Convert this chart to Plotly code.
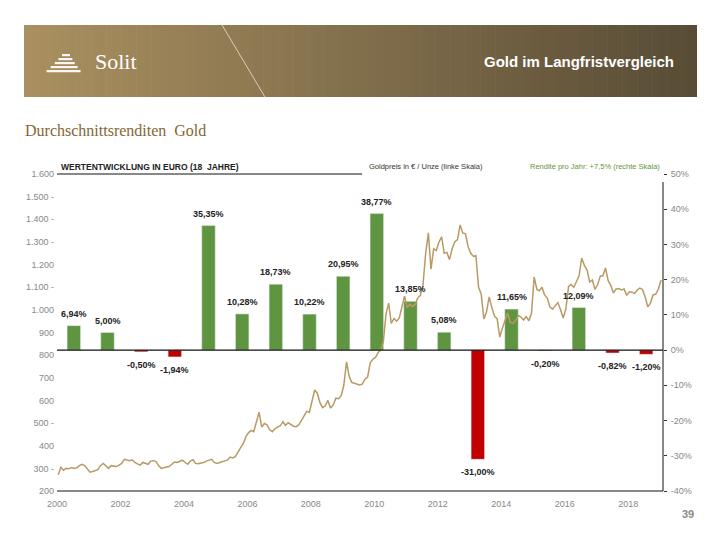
import plotly.graph_objects as go

# ---------------- data ----------------
bar_labels = ["6,94%", "5,00%", "-0,50%", "-1,94%", "35,35%", "10,28%", "18,73%", "10,22%", "20,95%",
              "38,77%", "13,85%", "5,08%", "-31,00%", "11,65%", "-0,20%", "12,09%", "-0,82%", "-1,20%"]
bar_values = [6.94, 5.00, -0.50, -1.94, 35.35, 10.28, 18.73, 10.22, 20.95,
              38.77, 13.85, 5.08, -31.00, 11.65, -0.20, 12.09, -0.82, -1.20]

gold_years = list(range(2000, 2019))
gold_monthly = [
    [272, 305, 292, 300, 298, 304, 300, 302, 312, 318, 312, 296],          # 2000
    [283, 286, 290, 294, 312, 322, 312, 300, 312, 310, 308, 314],          # 2001
    [322, 340, 336, 334, 338, 326, 320, 314, 326, 322, 318, 332],          # 2002
    [334, 330, 312, 300, 304, 306, 308, 316, 328, 326, 332, 336],          # 2003
    [326, 318, 332, 338, 322, 320, 324, 326, 332, 336, 340, 326],          # 2004
    [322, 326, 330, 332, 336, 350, 346, 352, 374, 392, 410, 440],          # 2005
    [458, 468, 462, 508, 548, 482, 498, 492, 470, 462, 476, 482],          # 2006
    [488, 506, 490, 502, 494, 486, 484, 492, 512, 532, 552, 548],          # 2007
    [600, 646, 632, 590, 568, 576, 600, 566, 580, 610, 608, 620],          # 2008
    [668, 770, 710, 680, 676, 672, 668, 672, 694, 702, 766, 782],          # 2009
    [790, 812, 822, 860, 980, 1030, 940, 962, 950, 964, 1010, 1060],       # 2010
    [1010, 1026, 1014, 1024, 1052, 1064, 1110, 1250, 1340, 1180, 1270, 1262],  # 2011
    [1300, 1322, 1250, 1254, 1222, 1270, 1300, 1310, 1375, 1340, 1336, 1280],  # 2012
    [1250, 1236, 1240, 1100, 1070, 960, 990, 1057, 1010, 972, 960, 880],   # 2013
    [920, 960, 986, 944, 940, 952, 975, 968, 955, 970, 952, 985],          # 2014
    [1145, 1090, 1084, 1100, 1066, 1052, 1012, 1004, 1016, 1032, 1000, 964],   # 2015
    [1004, 1104, 1112, 1100, 1124, 1150, 1229, 1196, 1176, 1123, 1132, 1090],  # 2016
    [1112, 1150, 1150, 1185, 1130, 1108, 1075, 1092, 1094, 1088, 1092, 1064],  # 2017
    [1080, 1078, 1072, 1088, 1096, 1090, 1058, 1013, 1030, 1066, 1070, 1092],  # 2018
]
gold_last = [("2019-01-15", 1132)]

left_ticks = [1600, 1500, 1400, 1300, 1200, 1100, 1000, 900, 800, 700, 600, 500, 400, 300, 200]
left_ticktext = ["1.600", "1.500 -", "1.400 -", "1.300 -", "1.200", "1.100 -", "1.000", "900",
                 "800", "700", "600", "500 -", "400", "300 -", "200"]
right_ticks = [50, 40, 30, 20, 10, 0, -10, -20, -30, -40]
right_ticktext = ["50%", "40%", "30%", "20%", "10%", "0%", "-10%", "-20%", "-30%", "-40%"]
x_tickyears = [2000, 2002, 2004, 2006, 2008, 2010, 2012, 2014, 2016, 2018]

# ---------------- build ----------------
gold_dates, gold_values = [], []
for yr, vals in zip(gold_years, gold_monthly):
    for m, v in enumerate(vals):
        gold_dates.append(f"{yr}-{m+1:02d}-15")
        gold_values.append(v)
for d, v in gold_last:
    gold_dates.append(d)
    gold_values.append(v)

bar_x = [i + 0.5 for i in range(len(bar_values))]
bar_colors = ["#5f9541" if v >= 0 else "#c00000" for v in bar_values]

W, H = 720, 540
L, R, T, B = 57, 57, 174, 49
PW, PH = W - L - R, H - T - B


def px(x):
    return (x - L) / PW


def py(y):
    return (H - B - y) / PH


fig = go.Figure()
fig.add_trace(go.Bar(x=bar_x, y=bar_values, marker_color=bar_colors, width=0.4,
                     xaxis="x", yaxis="y", showlegend=False, hoverinfo="skip"))
fig.add_trace(go.Scatter(x=gold_dates, y=gold_values, mode="lines",
                         line=dict(color="#b99a64", width=1.5),
                         xaxis="x2", yaxis="y2", showlegend=False))

lab_font = dict(family="Arial, Liberation Sans", size=9, color="#222222")
annotations = []
for xv, v, t in zip(bar_x, bar_values, bar_labels):
    if v >= 0:
        annotations.append(dict(x=xv, y=v, xref="x", yref="y", text="<b>" + t + "</b>",
                                showarrow=False, yanchor="bottom", yshift=5, font=lab_font))
    else:
        annotations.append(dict(x=xv, y=v, xref="x", yref="y", text="<b>" + t + "</b>",
                                showarrow=False, yanchor="top", yshift=-6, font=lab_font))

# header & texts
annotations += [
    dict(x=px(676), y=py(61), xref="paper", yref="paper", text="<b>Gold im Langfristvergleich</b>",
         showarrow=False, xanchor="right", yanchor="middle",
         font=dict(family="Arial, Liberation Sans", size=15, color="white")),
    dict(x=px(93), y=py(62), xref="paper", yref="paper", text="Solit",
         showarrow=False, xanchor="left", yanchor="middle",
         font=dict(family="Liberation Serif, DejaVu Serif", size=22, color="white")),
    dict(x=px(23), y=py(130), xref="paper", yref="paper", text="Durchschnittsrenditen  Gold",
         showarrow=False, xanchor="left", yanchor="middle",
         font=dict(family="Liberation Serif, DejaVu Serif", size=16, color="#866636")),
    dict(x=px(59), y=py(167), xref="paper", yref="paper", text="<b>WERTENTWICKLUNG IN EURO (18  JAHRE)</b>",
         showarrow=False, xanchor="left", yanchor="middle",
         font=dict(family="Arial, Liberation Sans", size=8.5, color="#222222")),
    dict(x=px(367), y=py(167), xref="paper", yref="paper", text="Goldpreis in € / Unze (linke Skala)",
         showarrow=False, xanchor="left", yanchor="middle",
         font=dict(family="Arial, Liberation Sans", size=7.5, color="#333333")),
    dict(x=px(662), y=py(167), xref="paper", yref="paper", text="Rendite pro Jahr: +7,5% (rechte Skala)",
         showarrow=False, xanchor="right", yanchor="middle",
         font=dict(family="Arial, Liberation Sans", size=7.5, color="#5f9541")),
    dict(x=px(696), y=py(514), xref="paper", yref="paper", text="<b>39</b>",
         showarrow=False, xanchor="right", yanchor="middle",
         font=dict(family="Arial, Liberation Sans", size=11, color="#8a8a8a")),
]

shapes = []
# gradient banner
x0b, x1b, y0b, y1b = 24, 697, 25, 97
c0, c1 = (170, 144, 96), (88, 76, 54)
n = 90
for i in range(n):
    f = i / (n - 1)
    c = tuple(int(round(a + (b - a) * f)) for a, b in zip(c0, c1))
    xa = x0b + (x1b - x0b) * i / n
    xb = x0b + (x1b - x0b) * (i + 1) / n + 0.6
    shapes.append(dict(type="rect", xref="paper", yref="paper", x0=px(xa), x1=px(min(xb, x1b)),
                       y0=py(y1b), y1=py(y0b), fillcolor=f"rgb{c}", line=dict(width=0), layer="below"))
# diagonal thin line in banner
shapes.append(dict(type="line", xref="paper", yref="paper", x0=px(222), y0=py(25), x1=px(265), y1=py(97),
                   line=dict(color="rgba(255,255,255,0.8)", width=0.8)))
# pyramid logo
for k, (w, yy) in enumerate([(8, 54), (14, 58), (20, 62), (27, 66), (34, 70)]):
    cx = 66 - k * 0.6
    shapes.append(dict(type="rect", xref="paper", yref="paper", x0=px(cx - w / 2), x1=px(cx + w / 2),
                       y0=py(yy + 2.2), y1=py(yy), fillcolor="rgba(255,255,255,0.92)", line=dict(width=0)))
# top line under chart title
shapes.append(dict(type="line", xref="paper", yref="paper", x0=px(57), x1=px(362), y0=1, y1=1,
                   line=dict(color="#111111", width=1)))
# bottom axis line
shapes.append(dict(type="line", xref="paper", yref="paper", x0=0, x1=1, y0=0, y1=0,
                   line=dict(color="#111111", width=1)))
# right axis line
shapes.append(dict(type="line", xref="paper", yref="paper", x0=1, x1=1, y0=0, y1=py(182),
                   line=dict(color="#111111", width=1)))
# zero line (right scale)
shapes.append(dict(type="line", xref="paper", yref="y", x0=0, x1=1, y0=0, y1=0,
                   line=dict(color="#111111", width=1.2)))

tick_font = dict(family="Arial, Liberation Sans", size=9, color="#888888")

fig.update_layout(
    width=W, height=H,
    margin=dict(l=L, r=R, t=T, b=B, pad=0),
    paper_bgcolor="white", plot_bgcolor="rgba(0,0,0,0)",
    barmode="overlay",
    xaxis=dict(range=[0, 18], visible=False, fixedrange=True),
    yaxis=dict(range=[-40, 50], side="right", tickvals=right_ticks, ticktext=right_ticktext,
               showgrid=False, zeroline=False, showline=False, ticks="outside", ticklen=3,
               tickcolor="#333333", tickfont=tick_font, ticklabelstandoff=2),
    xaxis2=dict(type="date", range=["2000-01-01", "2019-02-06"], overlaying="x", anchor="y2", side="bottom",
                tickvals=[f"{y}-01-01" for y in x_tickyears], ticktext=[str(y) for y in x_tickyears],
                showgrid=False, zeroline=False, showline=False, ticks="", tickfont=tick_font,
                ticklabelstandoff=6),
    yaxis2=dict(range=[200, 1600], overlaying="y", side="left", anchor="x2",
                tickvals=left_ticks, ticktext=left_ticktext, showgrid=False, zeroline=False,
                showline=False, ticks="", tickfont=tick_font, ticklabelstandoff=2),
    annotations=annotations,
    shapes=shapes,
)

fig.write_html("out.html", config={"displayModeBar": False},
               post_script="document.body.style.margin='0';document.body.style.padding='0';")
